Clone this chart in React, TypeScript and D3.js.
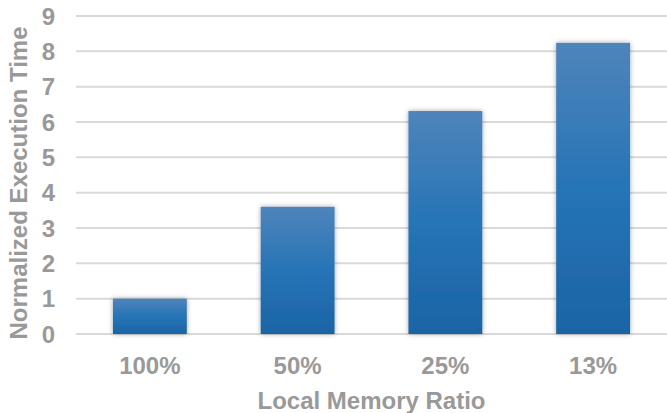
import React from "react";
import * as d3 from "d3";

const categories = ["100%", "50%", "25%", "13%"];
const values = [1.0, 3.6, 6.31, 8.24];
const yTicks = [0, 1, 2, 3, 4, 5, 6, 7, 8, 9];
const yTitle = "Normalized Execution Time";
const xTitle = "Local Memory Ratio";

const W = 667;
const H = 413;
const m = { left: 76, right: 0, top: 16, bottom: 79 };

export default function App() {
  const x = d3
    .scaleBand<string>()
    .domain(categories)
    .range([m.left, W - m.right])
    .paddingInner(0.5)
    .paddingOuter(0.25);
  const y = d3.scaleLinear().domain([0, 9]).range([H - m.bottom, m.top]);
  const font = "'Liberation Sans', Arial, sans-serif";
  const gray = "#999999";
  return (
    <svg
      width={W}
      height={H}
      style={{ position: "absolute", left: 0, top: 0, background: "#fff" }}
    >
      <defs>
        <linearGradient id="barGrad" x1="0" y1="0" x2="0" y2="1">
          <stop offset="0%" stopColor="#4f84bb" />
          <stop offset="50%" stopColor="#2674b6" />
          <stop offset="100%" stopColor="#1b64a5" />
        </linearGradient>
        <filter id="shadow" x="-20%" y="-20%" width="140%" height="140%">
          <feDropShadow dx="0" dy="0" stdDeviation="2.5" floodColor="#000" floodOpacity="0.35" />
        </filter>
      </defs>
      {yTicks.map((t) => (
        <g key={t}>
          <line
            x1={m.left}
            x2={W - m.right}
            y1={y(t)}
            y2={y(t)}
            stroke="#d9d9d9"
            strokeWidth={2}
          />
          <text
            x={55}
            y={y(t)}
            dy="0.36em"
            textAnchor="end"
            fontFamily={font}
            fontWeight="bold"
            fontSize={24}
            fill={gray}
          >
            {t}
          </text>
        </g>
      ))}
      {categories.map((c, i) => (
        <g key={c}>
          <rect
            x={x(c)}
            y={y(values[i])}
            width={x.bandwidth()}
            height={y(0) - y(values[i])}
            fill="url(#barGrad)"
            filter="url(#shadow)"
          />
          <text
            x={(x(c) as number) + x.bandwidth() / 2}
            y={374}
            textAnchor="middle"
            fontFamily={font}
            fontWeight="bold"
            fontSize={24}
            fill={gray}
          >
            {c}
          </text>
        </g>
      ))}
      <text
        x={(m.left + W - m.right) / 2}
        y={409}
        textAnchor="middle"
        fontFamily={font}
        fontWeight="bold"
        fontSize={24}
        fill={gray}
      >
        {xTitle}
      </text>
      <text
        transform={`translate(27, ${(y(0) + y(9)) / 2 + 8}) rotate(-90)`}
        textAnchor="middle"
        fontFamily={font}
        fontWeight="bold"
        fontSize={24}
        fill={gray}
      >
        {yTitle}
      </text>
    </svg>
  );
}
